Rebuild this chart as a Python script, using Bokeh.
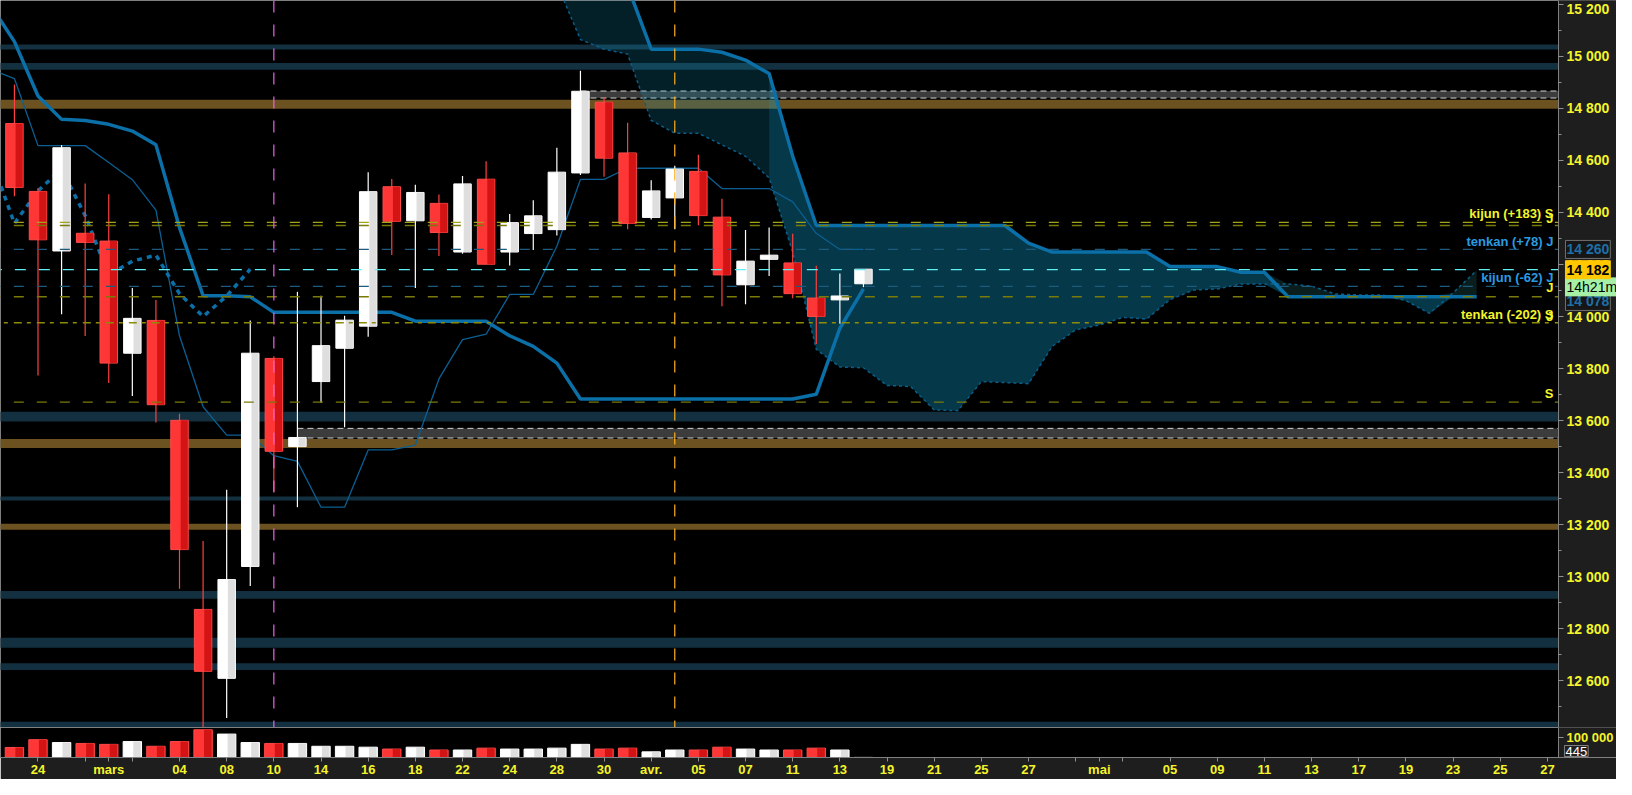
import numpy as np
from bokeh.plotting import figure
from bokeh.models import Range1d, FixedTicker, Span, Label, LinearAxis
from bokeh.layouts import column
from bokeh.embed import file_html
from bokeh.resources import INLINE

# ---------------- data ----------------
opens  = [14742, 14481, 14252, 14320, 14290, 13859, 13985, 13601, 12874, 12609,
          13039, 13839, 13500, 13750, 13878, 13963, 14499, 14368, 14435, 14248,
          14528, 14248, 14319, 14334, 14552, 14824, 14629, 14381, 14456, 14558,
          14382, 14122, 14220, 14206, 14071, 14064, 14126]
highs  = [14892, 14493, 14659, 14511, 14470, 14110, 14064, 13626, 13137, 13334,
          13985, 13847, 14095, 14080, 14003, 14555, 14529, 14507, 14469, 14540,
          14597, 14394, 14447, 14649, 14945, 14843, 14745, 14524, 14580, 14622,
          14453, 14333, 14342, 14318, 14195, 14165, 14182]
lows   = [14462, 13773, 14009, 13925, 13744, 13694, 13593, 12953, 12420, 12457,
          12964, 13326, 13267, 13669, 13574, 13922, 14237, 14110, 14233, 14241,
          14201, 14196, 14256, 14312, 14544, 14537, 14336, 14373, 14336, 14351,
          14040, 14047, 14156, 14070, 13894, 13972, 14113]
closes = [14496, 14295, 14649, 14285, 13821, 13993, 13661, 13104, 12636, 12989,
          13859, 13482, 13535, 13888, 13986, 14480, 14366, 14477, 14323, 14510,
          14201, 14361, 14387, 14555, 14866, 14609, 14358, 14483, 14567, 14388,
          14160, 14213, 14236, 14088, 14000, 14079, 14182]
volumes = [51000, 90500, 76000, 71400, 66700, 81000, 57000, 81000, 141000, 119000,
           76000, 71400, 71400, 57000, 57000, 52400, 42900, 52400, 38100, 38100,
           47600, 42900, 42900, 47600, 66700, 42900, 47600, 28600, 38100, 38100,
           52400, 42900, 38100, 38100, 47600, 38100, 445]

# Ichimoku lines (index -1 .. 36)
tenkan = [14950, 14915, 14657, 14657, 14657, 14592, 14526, 14409, 13926, 13653,
          13544, 13544, 13465, 13443, 13267, 13267, 13487, 13487, 13506, 13760,
          13911, 13932, 14085, 14085, 14270, 14527, 14527, 14570, 14570, 14570,
          14570, 14492, 14492, 14492, 14441, 14320, 14258, 14258]
kijun = [15196, 15057, 14848, 14758, 14754, 14739, 14713, 14660, 14342, 14080,
         14080, 14076, 14016, 14016, 14016, 14016, 14016, 14016, 13982, 13982,
         13982, 13982, 13926, 13885, 13821, 13683, 13683, 13683, 13683, 13683,
         13683, 13683, 13683, 13683, 13683, 13701, 13955, 14106]
# cloud (index 23 .. 62)
senkou_a = [15280, 15065, 15028, 15009, 14754, 14705, 14705, 14660, 14616, 14533,
            14248, 13874, 13806, 13803, 13735, 13731, 13641, 13638, 13750, 13746,
            13742, 13885, 13949, 13967, 13997, 13990, 14065, 14102, 14106, 14125,
            14125, 14125, 14117, 14087, 14083, 14083, 14061, 14012, 14091, 14177]
senkou_b = [15700, 15600, 15480, 15270, 15028, 15028, 15028, 15016, 14986, 14934,
            14616, 14350, 14350, 14350, 14350, 14350, 14350, 14350, 14350, 14350,
            14282, 14248, 14248, 14248, 14248, 14248, 14192, 14192, 14192, 14170,
            14170, 14076, 14076, 14076, 14076, 14076, 14076, 14076, 14076, 14076]

# horizontal zones
teal_lo = [15027, 14949, 13596, 13293, 12915, 12727, 12641, 12420]
teal_hi = [15046, 14975, 13634, 13308, 12945, 12765, 12667, 12442]
brown_lo = [14799, 13495, 13180]
brown_hi = [14833, 13529, 13203]
grey_lo = [14840, 13533]
grey_hi = [14867, 13570]
grey_start = [24, 12]

# dashed levels
level_vals = [14362, 14350, 14258, 14180, 14116, 14076, 13976, 13671]
level_cols = ["#a4a418", "#7a7a08", "#1d5a7e", "#5ff0f4", "#1d5a7e", "#7a7a08", "#8c8c0a", "#7a7a08"]
level_dash = ["10 13", "10 13", "10 13", "11 13", "10 13", "10 13", "8 5 4 6", "10 13"]

# x axis
xtick_pos = [1, 3, 4, 5, 7, 9, 11, 13, 15, 17, 19, 21, 23, 25, 27, 29, 31, 33, 35,
             37, 39, 41, 43, 45, 46, 47, 49, 51, 53, 55, 57, 59, 61, 63, 65]
xtick_lab = ["24", "", "mars", "", "04", "08", "10", "14", "16", "18", "22", "24", "28",
             "30", "avr.", "05", "07", "11", "13", "19", "21", "25", "27", "", "mai", "",
             "05", "09", "11", "13", "17", "19", "23", "25", "27"]
ytick_pos = list(range(12600, 15201, 200))

# ---------------- figures ----------------
FONT = "Liberation Sans"
YEL = "#f4f42a"
AXBG = "#1e1e1e"
XEND = 65.47            # right edge of the price area (axis line)
XR = Range1d(-0.59, 67.93)

p = figure(width=1616, height=727, x_range=XR, y_range=Range1d(12420, 15215),
           output_backend="svg", toolbar_location=None, x_axis_location=None,
           y_axis_location=None, background_fill_color="black",
           border_fill_color=AXBG, min_border_left=0, min_border_top=0,
           min_border_bottom=0, min_border_right=0, outline_line_color=None)
p.grid.visible = False

# zones
p.quad(left=-5, right=80, bottom=teal_lo, top=teal_hi, fill_color="#12303f", line_color=None)
p.quad(left=-5, right=80, bottom=brown_lo, top=brown_hi, fill_color="#6b5220", line_color=None)
p.quad(left=grey_start, right=80, bottom=grey_lo, top=grey_hi, fill_color="#3c3c3c", line_color=None)
p.segment(x0=grey_start, x1=[80, 80], y0=grey_hi, y1=grey_hi, line_color="#d0d0d0", line_dash="6 4", line_width=1)
p.segment(x0=grey_start, x1=[80, 80], y0=grey_lo, y1=grey_lo, line_color="#d0d0d0", line_dash="6 4", line_width=1)

# cloud
cx = np.arange(23, 23 + len(senkou_a))
sa = np.array(senkou_a, dtype=float)
sb = np.array(senkou_b, dtype=float)
lo_ = np.minimum(sa, sb)
hi_ = np.maximum(sa, sb)
p.varea(x=cx, y1=lo_, y2=sb, fill_color="#12a6d6", fill_alpha=0.19)
k = list(cx).index(32)
p.varea(x=cx[k:], y1=lo_[k:], y2=sb[k:], fill_color="#12a6d6", fill_alpha=0.19)
p.varea(x=cx, y1=sb, y2=hi_, fill_color="#1a4a4c", fill_alpha=0.4)
p.line(cx, sa, line_color="#0b5d8a", line_width=1.5, line_dash="3 3")
p.line(cx, sb, line_color="#0b6fa8", line_width=3.5)

# tenkan / kijun / chikou
lx = np.arange(-1, 37)
p.line(lx, tenkan, line_color="#0b5f92", line_width=1.3)
p.line(lx, kijun, line_color="#0b6fa8", line_width=3.5)
chx = np.arange(25, 37) - 26
p.line(chx, closes[25:37], line_color="#0b6fa8", line_width=3.5, line_dash="5 5")

# candles
x = np.arange(len(opens))
o = np.array(opens); c = np.array(closes)
up = c >= o
top = np.maximum(o, c); bot = np.minimum(o, c)
wcol = ["#ffffff" if u else "#ff4040" for u in up]
p.segment(x0=x, x1=x, y0=lows, y1=highs, line_color=wcol, line_width=1.2)
fill1 = ["#ffffff" if u else "#ff3636" for u in up]
fill2 = ["#d6d6d6" if u else "#c80c0c" for u in up]
bord = ["#ffffff" if u else "#ff4a4a" for u in up]
p.vbar(x=x, width=0.74, top=top, bottom=bot, fill_color=fill1, line_color=bord, line_width=1)
p.vbar(x=x + 0.2, width=0.3, top=top, bottom=bot, fill_color=fill2, line_color=None, fill_alpha=0.8)

# dashed levels
for lv, lc, ld in zip(level_vals, level_cols, level_dash):
    p.line([-1, 80], [lv, lv], line_color=lc, line_dash=ld, line_width=1.3)

# price-axis strip (right of the axis line)
p.quad(left=XEND, right=80, bottom=10000, top=20000, fill_color=AXBG, line_color=None)

# vertical markers
p.add_layout(Span(location=11, dimension="height", line_color="#f060f0", line_dash="12 12", line_width=1.2))
p.add_layout(Span(location=28, dimension="height", line_color="#ffb020", line_dash="12 12", line_width=1.2))

# in-chart labels
def lab(txt, yv, col):
    p.add_layout(Label(x=XEND, y=yv, x_offset=-5, text=txt, text_align="right",
                       text_baseline="middle", text_color=col, text_font=FONT,
                       text_font_style="bold", text_font_size="13px"))

lab("kijun (+183) S", 14396, YEL)
lab("J", 14378, YEL)
lab("tenkan (+78) J", 14290, "#2b9be0")
lab("kijun (-62) J", 14149, "#2b9be0")
lab("J", 14113, YEL)
lab("tenkan (-202) S", 14009, YEL)
lab("J", 14002, YEL)
lab("S", 13703, YEL)

# price axis (real Bokeh axis, drawn at the price-area edge)
ax = LinearAxis(fixed_location=XEND)
ax.ticker = FixedTicker(ticks=ytick_pos, minor_ticks=list(range(12500, 15201, 100)))
ax.major_label_overrides = {t: f"{t // 1000} {t % 1000:03d}" for t in ytick_pos}
ax.axis_line_color = "#808080"
ax.major_tick_line_color = "#909090"
ax.minor_tick_line_color = "#909090"
ax.major_tick_out = 5
ax.major_tick_in = 0
ax.minor_tick_out = 3
ax.minor_tick_in = 0
ax.major_label_standoff = 3
ax.major_label_text_color = YEL
ax.major_label_text_font = FONT
ax.major_label_text_font_style = "bold"
ax.major_label_text_font_size = "14px"
p.add_layout(ax, "right")

# axis boxes
def box(txt, yv, col, bg, border, bold=True):
    p.add_layout(Label(x=XEND, y=yv, x_offset=7, text=txt, text_align="left",
                       text_baseline="middle", text_color=col, text_font=FONT,
                       text_font_style="bold" if bold else "normal", text_font_size="14px",
                       background_fill_color=bg, border_line_color=border, padding=1))

box("14 260", 14258, "#1e6fa8", "#161616", "#707070")
box("14 078", 14058, "#1e6fa8", "#161616", "#707070")
box("14h21m", 14114, "#000000", "#a6f0a6", "#a6f0a6", bold=False)
box("14 182", 14180, "#000000", "#ffc800", "#ffc800")

# volume pane
v = figure(width=1616, height=52, x_range=XR, y_range=Range1d(0, 152400),
           output_backend="svg", toolbar_location=None, y_axis_location=None,
           background_fill_color="black", border_fill_color=AXBG,
           min_border_left=0, min_border_top=0, min_border_bottom=0,
           min_border_right=0, outline_line_color="#808080")
v.grid.visible = False
v.vbar(x=x, width=0.78, top=volumes, bottom=0, fill_color=fill1, line_color=bord, line_width=1)
v.vbar(x=x + 0.2, width=0.32, top=volumes, bottom=0, fill_color=fill2, line_color=None, fill_alpha=0.8)
v.quad(left=XEND, right=80, bottom=-10000, top=200000, fill_color=AXBG, line_color=None)

vy = LinearAxis(fixed_location=XEND)
vy.ticker = FixedTicker(ticks=[100000])
vy.major_label_overrides = {100000: "100 000"}
vy.axis_line_color = "#808080"
vy.major_tick_line_color = "#909090"
vy.major_tick_out = 5
vy.major_tick_in = 0
vy.minor_tick_line_color = None
vy.major_label_standoff = 3
vy.major_label_text_color = YEL
vy.major_label_text_font = FONT
vy.major_label_text_font_style = "bold"
vy.major_label_text_font_size = "13px"
v.add_layout(vy, "right")

v.add_layout(Label(x=XEND, y=0, x_offset=6, y_offset=1, text="445", text_align="left",
                   text_baseline="bottom", text_color="#ffffff", text_font=FONT,
                   text_font_size="13px", background_fill_color="#202020",
                   border_line_color="#808080", padding=1))

vx = v.xaxis[0]
vx.ticker = FixedTicker(ticks=xtick_pos)
vx.major_label_overrides = {t: s for t, s in zip(xtick_pos, xtick_lab)}
vx.axis_line_color = "#808080"
vx.major_tick_line_color = "#909090"
vx.major_tick_out = 4
vx.major_tick_in = 0
vx.minor_tick_line_color = None
vx.major_label_standoff = 0
vx.major_label_text_color = YEL
vx.major_label_text_font = FONT
vx.major_label_text_font_style = "bold"
vx.major_label_text_font_size = "13px"

layout = column(p, v, spacing=0)
open("out.html", "w").write(file_html(layout, INLINE))
